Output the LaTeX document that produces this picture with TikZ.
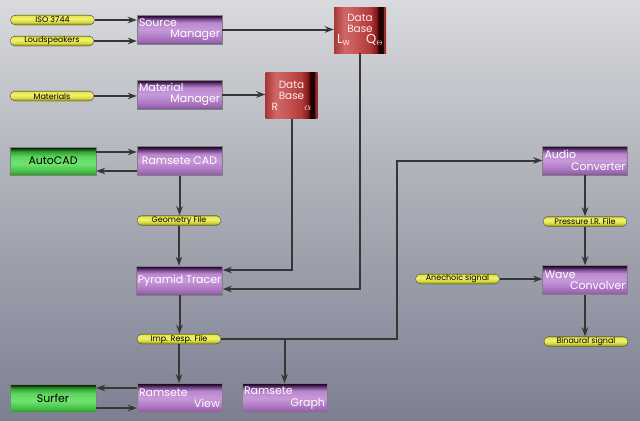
\documentclass[tikz,border=0pt]{standalone}
\usepackage{fontspec}
\setmainfont{Poppins}
\usepackage{tikz}
\usetikzlibrary{arrows.meta}

\definecolor{bgtop}{HTML}{D8DADE}
\definecolor{bgmid}{HTML}{A8AAB4}
\definecolor{bgbot}{HTML}{7C8092}
\definecolor{linecol}{HTML}{363636}

\pgfdeclareverticalshading{purpleshade}{100bp}{color(0bp)=(rgb,255:red,122;green,74;blue,144); color(25bp)=(rgb,255:red,122;green,74;blue,144); color(28bp)=(rgb,255:red,150;green,98;blue,172); color(38bp)=(rgb,255:red,178;green,126;blue,198); color(50bp)=(rgb,255:red,200;green,152;blue,218); color(62bp)=(rgb,255:red,184;green,136;blue,204); color(68bp)=(rgb,255:red,122;green,72;blue,144); color(72bp)=(rgb,255:red,60;green,24;blue,72); color(75bp)=(rgb,255:red,14;green,4;blue,16); color(100bp)=(black)}
\pgfdeclareverticalshading{greenshade}{100bp}{color(0bp)=(rgb,255:red,40;green,150;blue,40); color(25bp)=(rgb,255:red,40;green,150;blue,40); color(32bp)=(rgb,255:red,72;green,192;blue,72); color(45bp)=(rgb,255:red,112;green,228;blue,112); color(58bp)=(rgb,255:red,96;green,212;blue,96); color(67bp)=(rgb,255:red,48;green,160;blue,48); color(72bp)=(rgb,255:red,16;green,64;blue,16); color(75bp)=(black); color(100bp)=(black)}
\pgfdeclareverticalshading{yellowshade}{100bp}{color(0bp)=(rgb,255:red,128;green,128;blue,16); color(25bp)=(rgb,255:red,128;green,128;blue,16); color(40bp)=(rgb,255:red,216;green,216;blue,64); color(55bp)=(rgb,255:red,240;green,240;blue,112); color(70bp)=(rgb,255:red,232;green,232;blue,80); color(75bp)=(rgb,255:red,160;green,160;blue,32); color(100bp)=(rgb,255:red,160;green,160;blue,32)}
\pgfdeclarehorizontalshading{redshade}{100bp}{color(0bp)=(rgb,255:red,168;green,56;blue,56); color(25bp)=(rgb,255:red,168;green,56;blue,56); color(35bp)=(rgb,255:red,208;green,104;blue,104); color(45bp)=(rgb,255:red,200;green,88;blue,88); color(60bp)=(rgb,255:red,176;green,56;blue,56); color(66bp)=(rgb,255:red,128;green,24;blue,24); color(68bp)=(rgb,255:red,32;green,0;blue,0); color(72bp)=(rgb,255:red,32;green,0;blue,0); color(73bp)=(rgb,255:red,160;green,48;blue,48); color(75bp)=(rgb,255:red,144;green,40;blue,40); color(100bp)=(rgb,255:red,144;green,40;blue,40)}

\newcommand\twolab[2]{#1\\\hspace*{0pt plus 1fill}#2}

\tikzset{
  proc/.style={shade,shading=purpleshade,minimum width=85bp,minimum height=29bp,inner sep=1.5bp,
    text=white,font=\fontsize{11}{11.5}\selectfont,draw=black!50,line width=0.4pt},
  proc2/.style={proc,text width=81bp,align=left},
  ext/.style={shade,shading=greenshade,minimum width=86bp,minimum height=28bp,
    font=\fontsize{11}{11.5}\selectfont,text=black,draw=black!50,line width=0.4pt},
  file/.style={shade,shading=yellowshade,rounded corners=5bp,minimum width=84bp,minimum height=10bp,
    inner sep=0pt,font=\fontsize{8}{8}\selectfont,draw=black!70,line width=0.4pt},
  dbase/.style={shade,shading=redshade,minimum width=52bp,minimum height=46bp,inner sep=1bp,
    text=red!8,align=center,font=\fontsize{10.5}{11}\selectfont},
  flow/.style={draw=linecol,line width=2bp,-{Stealth[length=9bp,width=6.5bp]}},
}

\begin{document}
\begin{tikzpicture}[x=1bp,y=-1bp]
  \shade[top color=bgtop,bottom color=bgbot,middle color=bgmid] (0,0) rectangle (640,420);
  % inputs and managers
  \node[file](iso)at(52.5,20){ISO 3744};
  \node[file](loud)at(52,41){Loudspeakers};
  \node[file](mat)at(52,96){Materials};
  \node[proc2](srcman)at(179.5,29.5){\twolab{Source}{Manager}};
  \node[proc2](matman)at(179.5,94.5){\twolab{Material}{Manager}};
  \node[dbase](dba)at(360,30){Data\\Base\\\makebox[46bp]{{\fontsize{13}{13}\selectfont L}\textsubscript{W}\hfill{\fontsize{13}{13}\selectfont Q}\textsubscript{$\Theta$}}};
  \node[dbase](dbb)at(291.5,95.5){Data\\Base\\\makebox[40bp]{R\hfill$\alpha$}};
  % main chain
  \node[ext](acad)at(53,161){AutoCAD};
  \node[proc](rcad)at(179.5,161){Ramsete CAD};
  \node[file](geo)at(179,220.5){Geometry File};
  \node[proc](ptr)at(179.5,280.5){Pyramid Tracer};
  \node[file](imp)at(179,339){Imp. Resp. File};
  \node[ext](surf)at(53,398){Surfer};
  \node[proc2](rview)at(179.5,398){\twolab{Ramsete}{View}};
  \node[proc2](rgraph)at(284.5,398){\twolab{Ramsete}{Graph}};
  % audio side
  \node[proc2](audio)at(585,160.5){\twolab{Audio}{Converter}};
  \node[file](pres)at(585,221.5){Pressure I.R. File};
  \node[proc2](wave)at(585,280){\twolab{Wave}{Convolver}};
  \node[file](anec)at(457.5,279){Anechoic signal};
  \node[file](bin)at(586,341.5){Binaural signal};
  \coordinate(bend)at(397,0);

  \draw[flow](iso.east)--(iso.east-|srcman.west);
  \draw[flow](loud.east)--(loud.east-|srcman.west);
  \draw[flow](srcman.east)--(srcman.east-|dba.west);
  \draw[flow](mat.east)--(mat.east-|matman.west);
  \draw[flow](matman.east)--(matman.east-|dbb.west);
  \draw[flow](dba.south)|-([yshift=-8.5bp]ptr.east);
  \draw[flow](dbb.south)|-([yshift=10.5bp]ptr.east);
  \draw[flow]([yshift=9bp]acad.east)--([yshift=9bp]rcad.west);
  \draw[flow]([yshift=-10bp]rcad.west)--([yshift=-10bp]acad.east);
  \draw[flow](rcad.south)--(rcad.south|-geo.north);
  \draw[flow](geo.south)--(geo.south|-ptr.north);
  \draw[flow](ptr.south)--(ptr.south|-imp.north);
  \draw[flow](imp.south)--(imp.south|-rview.north);
  \draw[flow](imp.east)-|(bend|-audio.west)--(audio.west);
  \draw[flow](imp.east-|rgraph)--(rgraph.north);
  \draw[flow]([yshift=10bp]rview.west)--([yshift=10bp]surf.east);
  \draw[flow]([yshift=-10bp]surf.east)--([yshift=-10bp]rview.west);
  \draw[flow](audio.south)--(audio.south|-pres.north);
  \draw[flow](pres.south)--(pres.south|-wave.north);
  \draw[flow](anec.east)--(anec.east-|wave.west);
  \draw[flow](wave.south)--(wave.south|-bin.north);
\end{tikzpicture}
\end{document}
